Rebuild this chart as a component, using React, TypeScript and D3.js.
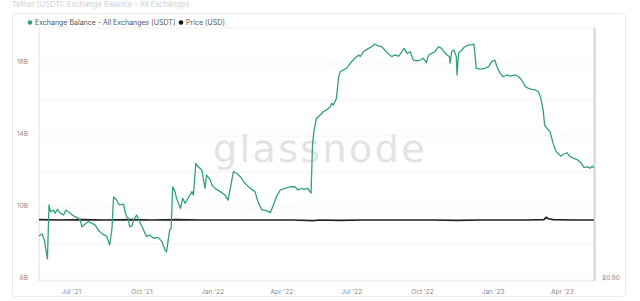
import React from 'react';
import * as d3 from 'd3';

// ---- Data ----
const balanceDates: string[] = [
  '2021-05-20','2021-05-24','2021-05-27','2021-05-29','2021-05-31','2021-06-02','2021-06-04','2021-06-08','2021-06-10','2021-06-13',
  '2021-06-16','2021-06-21','2021-06-24','2021-06-29','2021-07-04','2021-07-08','2021-07-12','2021-07-15','2021-07-19','2021-07-23',
  '2021-07-28','2021-08-01','2021-08-05','2021-08-10','2021-08-16','2021-08-20','2021-08-23','2021-08-25','2021-08-29','2021-08-31',
  '2021-09-02','2021-09-07','2021-09-09','2021-09-11','2021-09-13','2021-09-15','2021-09-18','2021-09-20','2021-09-24','2021-09-28',
  '2021-10-03','2021-10-07','2021-10-11','2021-10-16','2021-10-22','2021-10-27','2021-10-31','2021-11-02','2021-11-06','2021-11-08',
  '2021-11-10','2021-11-13','2021-11-15','2021-11-20','2021-11-23','2021-11-26','2021-11-30','2021-12-05','2021-12-07','2021-12-10',
  '2021-12-13','2021-12-18','2021-12-22','2021-12-24','2021-12-29','2021-12-31','2022-01-04','2022-01-11','2022-01-17','2022-01-21',
  '2022-01-28','2022-02-01','2022-02-06','2022-02-12','2022-02-19','2022-02-25','2022-03-01','2022-03-06','2022-03-12','2022-03-17',
  '2022-03-21','2022-03-25','2022-03-30','2022-04-05','2022-04-12','2022-04-18','2022-04-22','2022-04-27','2022-05-01','2022-05-05',
  '2022-05-09','2022-05-11','2022-05-13','2022-05-16','2022-05-21','2022-05-25','2022-05-29','2022-06-03','2022-06-05','2022-06-07',
  '2022-06-11','2022-06-14','2022-06-16','2022-06-20','2022-06-24','2022-06-29','2022-07-05','2022-07-10','2022-07-12','2022-07-16',
  '2022-07-23','2022-07-27','2022-07-31','2022-08-05','2022-08-09','2022-08-13','2022-08-18','2022-08-22','2022-08-26','2022-08-31',
  '2022-09-04','2022-09-07','2022-09-11','2022-09-15','2022-09-19','2022-09-24','2022-09-28','2022-10-02','2022-10-06','2022-10-09',
  '2022-10-13','2022-10-17','2022-10-22','2022-10-26','2022-10-29','2022-11-02','2022-11-05','2022-11-06','2022-11-08','2022-11-11',
  '2022-11-14','2022-11-15','2022-11-17','2022-11-21','2022-11-25','2022-11-30','2022-12-04','2022-12-07','2022-12-10','2022-12-15',
  '2022-12-21','2022-12-26','2022-12-30','2023-01-03','2023-01-06','2023-01-10','2023-01-14','2023-01-19','2023-01-23','2023-01-30',
  '2023-02-03','2023-02-07','2023-02-12','2023-02-16','2023-02-20','2023-02-25','2023-03-01','2023-03-04','2023-03-07','2023-03-09',
  '2023-03-12','2023-03-16','2023-03-20','2023-03-23','2023-03-26','2023-03-30','2023-04-03','2023-04-07','2023-04-11','2023-04-16',
  '2023-04-21','2023-04-25','2023-04-29','2023-05-04','2023-05-07','2023-05-10','2023-05-12',
];

// USDT exchange balance, billions
const balanceValues: number[] = [
  8.44, 8.56, 8.22, 7.67, 7.17, 10.17, 9.79, 9.89, 9.71, 9.93,
  9.74, 9.61, 9.89, 9.74, 9.56, 9.48, 9.37, 8.96, 9.11, 9.24,
  9.15, 9.06, 8.78, 8.56, 8.44, 7.94, 8.87, 10.61, 10.44, 10.26,
  10.17, 10.22, 9.79, 9.52, 9.44, 8.96, 9.0, 9.33, 9.61, 9.24,
  8.78, 8.41, 8.5, 8.32, 8.37, 8.13, 7.67, 7.57, 8.78, 8.87,
  11.17, 10.91, 10.54, 9.98, 10.54, 10.26, 10.54, 10.91, 10.72, 12.48,
  12.29, 12.11, 11.09, 11.83, 11.56, 11.28, 11.09, 10.91, 10.72, 10.44,
  12.02, 11.93, 11.74, 11.37, 11.09, 10.91, 10.35, 9.89, 9.85, 9.74,
  10.17, 10.63, 11.0, 11.09, 11.18, 11.18, 11.0, 11.09, 11.04, 11.09,
  10.82, 13.59, 14.33, 14.98, 15.17, 15.35, 15.44, 15.63, 15.82, 15.72,
  16.09, 17.29, 17.57, 17.67, 17.76, 18.04, 18.32, 18.5, 18.41, 18.68,
  18.87, 18.96, 19.11, 19.0, 18.96, 18.78, 18.56, 18.41, 18.5, 18.44,
  18.68, 18.87, 18.59, 18.68, 18.22, 18.18, 18.22, 18.32, 18.07, 18.5,
  18.59, 18.68, 18.96, 18.87, 18.68, 18.5, 18.41, 18.04, 18.68, 18.78,
  18.41, 17.39, 18.59, 18.78, 18.96, 19.06, 19.06, 19.11, 17.76, 17.71,
  17.76, 17.85, 18.13, 18.22, 17.85, 17.48, 17.29, 17.39, 17.33, 17.39,
  17.29, 17.11, 16.74, 16.65, 16.59, 16.56, 16.44, 16.11, 15.44, 14.61,
  14.43, 14.24, 13.59, 13.22, 13.04, 12.89, 13.0, 13.07, 12.85, 12.76,
  12.67, 12.52, 12.26, 12.29, 12.21, 12.33, 12.22,
];

const priceDates: string[] = [
  '2021-05-20','2021-06-15','2021-07-15','2021-08-15','2021-09-15','2021-10-15','2021-11-15','2021-12-15',
  '2022-01-15','2022-02-15','2022-03-15','2022-04-15','2022-05-12','2022-05-20','2022-06-15','2022-07-15',
  '2022-08-15','2022-09-15','2022-10-15','2022-11-15','2022-12-15','2023-01-15','2023-02-15','2023-03-08',
  '2023-03-11','2023-03-14','2023-03-20','2023-04-15','2023-05-12',
];
const priceValues: number[] = [
  1.001, 1.0, 1.001, 1.0, 1.001, 1.0, 1.001, 1.0,
  1.0, 1.0, 1.0, 1.0, 0.998, 1.0, 0.999, 1.0,
  1.0, 1.0, 1.0, 0.999, 1.0, 1.0, 1.0, 1.001,
  1.009, 1.004, 1.001, 1.0, 1.0,
];

const xTickDates: string[] = ['2021-07-01','2021-10-01','2022-01-01','2022-04-01','2022-07-01','2022-10-01','2023-01-01','2023-04-01'];
const yTickValues: number[] = [6, 10, 14, 18];
const yTickLabels: string[] = ['6B', '10B', '14B', '18B'];
const gridValues: number[] = [6, 8, 10, 12, 14, 16, 18, 20];
const priceTickValues: number[] = [0.8];
const priceTickLabels: string[] = ['$0.80'];
const legendLabels: string[] = ['Exchange Balance - All Exchanges [USDT]', 'Price [USD]'];
const headerText = 'Tether (USDT): Exchange Balance - All Exchanges';

const GREEN = '#33a07c';
const FONT = 'Inter, "Noto Sans", sans-serif';

export default function App() {
  const parse = d3.utcParse('%Y-%m-%d');
  const W = 640, H = 301;
  const left = 39, right = 594.6, top = 28, bottom = 280;

  const x = d3.scaleUtc()
    .domain([parse('2021-05-20') as Date, parse('2023-05-13') as Date])
    .range([left, right]);
  const y = d3.scaleLinear().domain([6, 20]).range([bottom, top]);
  const yp = d3.scaleLinear().domain([0.8, 1.64]).range([bottom, top]);

  const balance = balanceDates.map((d, i) => ({ d: parse(d) as Date, v: balanceValues[i] }));
  const price = priceDates.map((d, i) => ({ d: parse(d) as Date, v: priceValues[i] }));

  const balLine = d3.line<{ d: Date; v: number }>().x(p => x(p.d)).y(p => y(p.v));
  const priceLine = d3.line<{ d: Date; v: number }>().x(p => x(p.d)).y(p => yp(p.v));
  const fmt = d3.utcFormat("%b '%y");

  return (
    <div style={{ position: 'fixed', left: 0, top: 0, width: W, height: H, background: '#fff' }}>
      <svg width={W} height={H} style={{ display: 'block' }} fontFamily={FONT}>
        <rect x={0} y={0} width={W} height={H} fill="#fff" />
        <text x={12} y={7} fontSize={7.5} fill="#cfcfcf">{headerText}</text>
        <rect x={12.5} y={13.5} width={613} height={283} fill="none" stroke="#ececec" strokeWidth={1} rx={2} />

        {/* gridlines */}
        {gridValues.map(g => (
          <line key={g} x1={left} x2={right} y1={y(g)} y2={y(g)} stroke="#f1f1f1" strokeWidth={1} />
        ))}

        {/* watermark */}
        <text x={213} y={162} fontSize={38} letterSpacing={2.4} fill="#e3e3e3"
          fontFamily='"DejaVu Sans", Roboto, sans-serif'>glassnode</text>

        {/* axes */}
        <line x1={left} x2={left} y1={top} y2={bottom + 1} stroke="#e2e2e2" strokeWidth={1} />
        <line x1={left} x2={right} y1={bottom + 1} y2={bottom + 1} stroke="#e8e8e8" strokeWidth={1} />
        <line x1={right} x2={right} y1={top} y2={bottom + 1} stroke="#d4d4d4" strokeWidth={2} />

        {yTickValues.map((v, i) => (
          <text key={v} x={28} y={y(v) - 0.5} fontSize={6.5} fill="#8a8a8a" textAnchor="end">{yTickLabels[i]}</text>
        ))}
        {priceTickValues.map((v, i) => (
          <text key={v} x={602} y={yp(v) - 0.5} fontSize={6.5} fill="#8a8a8a" textAnchor="start">{priceTickLabels[i]}</text>
        ))}
        {xTickDates.map(t => {
          const d = parse(t) as Date;
          return (
            <text key={t} x={x(d)} y={294} fontSize={6.5} fill="#8a8a8a" textAnchor="middle">{fmt(d)}</text>
          );
        })}

        {/* series */}
        <path d={priceLine(price) || ''} fill="none" stroke="#222" strokeWidth={1.7} />
        <path d={balLine(balance) || ''} fill="none" stroke={GREEN} strokeWidth={1.3} strokeLinejoin="round" />

        {/* legend */}
        <circle cx={30} cy={22.5} r={2.3} fill={GREEN} />
        <text x={35} y={25} fontSize={7} fill="#555">{legendLabels[0]}</text>
        <circle cx={181} cy={22.5} r={2.3} fill="#111" />
        <text x={186} y={25} fontSize={7} fill="#555">{legendLabels[1]}</text>
      </svg>
    </div>
  );
}
